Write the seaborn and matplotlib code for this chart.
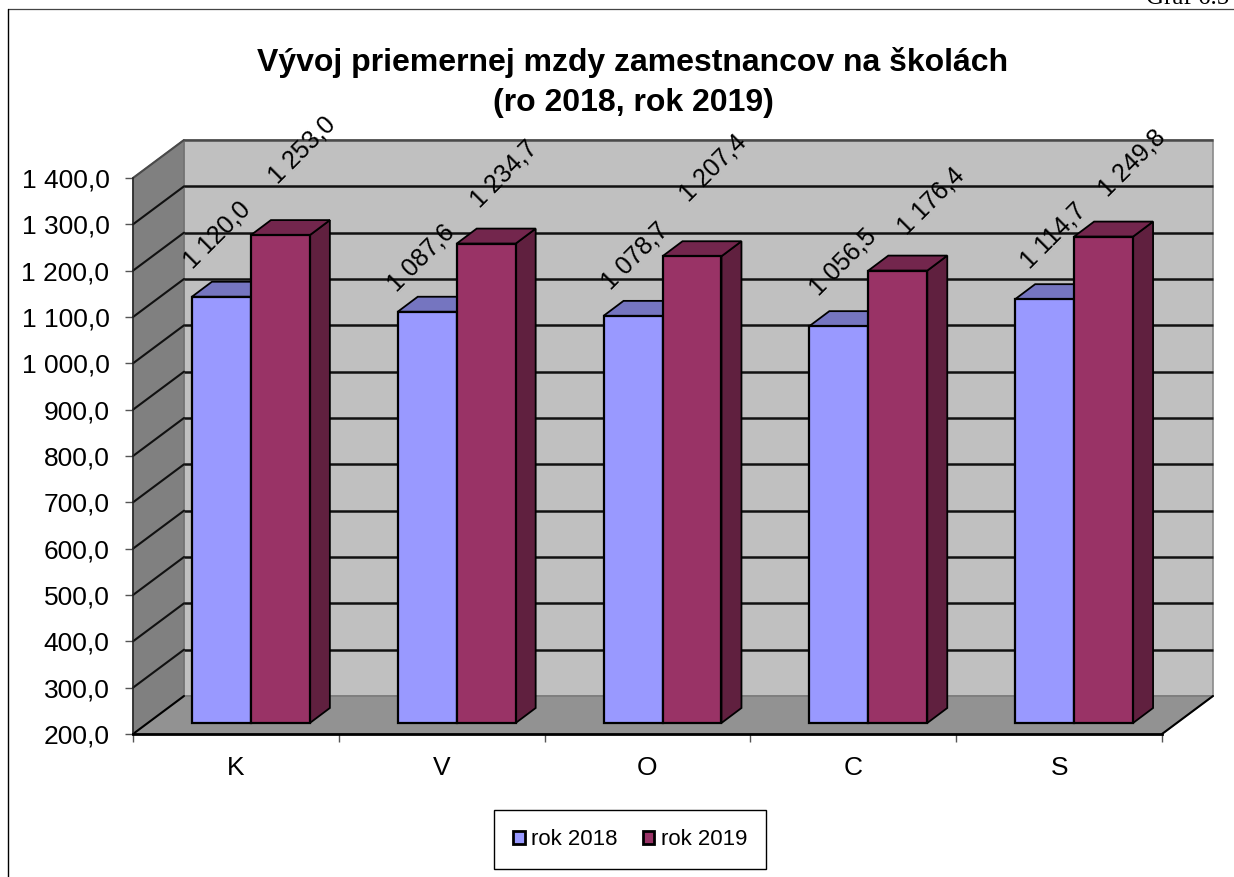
import matplotlib
matplotlib.use("Agg")
import matplotlib.pyplot as plt
from matplotlib.lines import Line2D
from matplotlib.patches import Polygon
from matplotlib.transforms import Affine2D, IdentityTransform
import pandas as pd
import seaborn as sns

# data
categories = ["K", "V", "O", "C", "S"]
rok_2018 = [1120.0, 1087.6, 1078.7, 1056.5, 1114.7]
rok_2019 = [1253.0, 1234.7, 1207.4, 1176.4, 1249.8]
series_names = ["rok 2018", "rok 2019"]
y_ticks = list(range(200, 1500, 100))

BLUE, BLUE_TOP, BLUE_SIDE = "#9999FF", "#7575C0", "#5A5A99"
RED, RED_TOP, RED_SIDE = "#993366", "#73264D", "#60203F"

W, H = 1234, 877


def fmt(v):
    s = f"{v:,.1f}"
    return s.replace(",", " ").replace(".", ",")


df = pd.DataFrame({
    "kat": categories * 2,
    "rok": [series_names[0]] * 5 + [series_names[1]] * 5,
    "mzda": rok_2018 + rok_2019,
})

sns.set_theme(style="white")
plt.rcParams["font.family"] = ["Liberation Sans", "DejaVu Sans"]

fig = plt.figure(figsize=(W / 100, H / 100), dpi=100, facecolor="white")
ax = fig.add_axes([133 / W, 1 - 734 / H, (1162 - 133) / W, (734 - 178) / H])
ax.patch.set_alpha(0)

sns.barplot(data=df, x="kat", y="mzda", hue="rok", order=categories,
            hue_order=series_names, palette=[BLUE, RED], width=0.573, gap=0,
            saturation=1, edgecolor="black", linewidth=1.6, ax=ax, zorder=5)
ax.set_xlim(-0.5, 4.5)
ax.set_ylim(200, 1400)
ax.set_xlabel("")
ax.set_ylabel("")


def back(dx=51, dy=38):
    return ax.transData + Affine2D().translate(dx, dy)


# walls and floor of the 3D box, from axis corners
ax.add_patch(Polygon([(-0.5, 200), (4.5, 200), (4.5, 1400), (-0.5, 1400)], closed=True,
                     facecolor="#C0C0C0", edgecolor="#8A8A8A", lw=1.2,
                     transform=back(), clip_on=False, zorder=0))
to_px = ax.transData.transform
bl, tl = to_px((-0.5, 200)), to_px((-0.5, 1400))
br = to_px((4.5, 200))
depth = (51, 38)
ax.add_patch(Polygon([bl, tl, tl + depth, bl + depth], closed=True, facecolor="#808080",
                     edgecolor="#707070", lw=1, transform=IdentityTransform(),
                     clip_on=False, zorder=0.5))
ax.add_patch(Polygon([bl, br, br + depth, bl + depth], closed=True, facecolor="#929292",
                     edgecolor="#777777", lw=1, transform=IdentityTransform(),
                     clip_on=False, zorder=0.5))

# gridlines on back wall + diagonals on the left wall
for v in y_ticks[1:]:
    col = "#4A4A4A" if v == 1400 else "#111111"
    ax.plot([-0.5, 4.5], [v, v], color=col, lw=1.8, transform=back(),
            clip_on=False, zorder=1, solid_capstyle="butt")
    p = to_px((-0.5, v))
    ax.add_line(Line2D([p[0], p[0] + 51], [p[1], p[1] + 38], color=col, lw=1.5,
                       transform=IdentityTransform(), clip_on=False, zorder=1))
for a in (bl, br):
    ax.add_line(Line2D([a[0], a[0] + 51], [a[1], a[1] + 38], color="black", lw=1.5,
                       transform=IdentityTransform(), clip_on=False, zorder=1.5))

# move bars into the box and add their top and side faces
bars = [b for c in ax.containers for b in c]
cols = [(BLUE_TOP, BLUE_SIDE)] * 5 + [(RED_TOP, RED_SIDE)] * 5
bar_dx, bar_dy = 15, 11
d = (20, 15)
for b, (c_top, c_side) in zip(bars, cols):
    b.set_transform(ax.transData + Affine2D().translate(bar_dx, bar_dy))
    b.set_clip_on(False)
    x0, x1 = b.get_x(), b.get_x() + b.get_width()
    y1 = b.get_height() + b.get_y()
    y0 = 200
    b.set_y(y0)
    b.set_height(y1 - y0)
    pa = to_px((x0, y1)) + (bar_dx, bar_dy)
    pb = to_px((x1, y1)) + (bar_dx, bar_dy)
    pc = to_px((x1, y0)) + (bar_dx, bar_dy)
    ax.add_patch(Polygon([pb, pc, pc + d, pb + d], closed=True, facecolor=c_side,
                         edgecolor="black", lw=1.3, transform=IdentityTransform(),
                         clip_on=False, zorder=3))
    ax.add_patch(Polygon([pa, pb, pb + d, pa + d], closed=True, facecolor=c_top,
                         edgecolor="black", lw=1.3, transform=IdentityTransform(),
                         clip_on=False, zorder=3))

# rotated value labels, nudged off the bars in pixels
label_dx = [-4, -6, 2, 4, 9, 22, 18, 21, 33, 29]
label_dy = [62, 54, 60, 64, 63, 85, 70, 88, 70, 74]
for b, v, dx, dy in zip(bars, rok_2018 + rok_2019, label_dx, label_dy):
    ax.annotate(fmt(v), (b.get_x() + b.get_width() / 2, v), xycoords="data",
                xytext=(bar_dx + dx, bar_dy + dy), textcoords="offset pixels",
                rotation=45, ha="center", va="center", fontsize=18,
                color="black", annotation_clip=False, zorder=6, rotation_mode="anchor")

# axes
for s in ("top", "right"):
    ax.spines[s].set_visible(False)
ax.spines["left"].set_linewidth(1.1)
ax.spines["left"].set_color("#222222")
ax.spines["bottom"].set_linewidth(2)
ax.spines["bottom"].set_color("black")
for s in ax.spines.values():
    s.set_zorder(2)

ax.set_yticks(y_ticks)
ax.set_yticklabels([fmt(v) for v in y_ticks], fontsize=19, color="black")
ax.set_xticks(range(5))
ax.set_xticklabels(categories, fontsize=19, color="black")
ax.set_xticks([i - 0.5 for i in range(6)], minor=True)
ax.tick_params(axis="y", left=True, length=6, width=1, color="#555555", pad=11)
ax.tick_params(axis="x", which="major", bottom=False, pad=10)
ax.tick_params(axis="x", which="minor", bottom=True, length=6, width=1, color="#555555")

# legend
leg = ax.legend(loc="center", bbox_to_anchor=(630 / W, 1 - 839.5 / H),
                bbox_transform=fig.transFigure, ncol=2, fontsize=16,
                frameon=True, fancybox=False, edgecolor="black", framealpha=1,
                handlelength=0.52, handleheight=0.52, handletextpad=0.28,
                columnspacing=1.15, borderpad=0.87, borderaxespad=0, labelcolor="black")
leg.get_frame().set_linewidth(1)
for h in leg.legend_handles:
    h.set_linewidth(2)
    h.set_edgecolor("black")

# title and page furniture
fig.text(633 / W, 1 - 62 / H, "Vývoj priemernej mzdy zamestnancov na školách",
         ha="center", va="center", fontsize=23, fontweight="bold", color="black")
fig.text(633 / W, 1 - 103 / H, "(ro 2018, rok 2019)",
         ha="center", va="center", fontsize=23, fontweight="bold", color="black")
fig.text(1 - 5 / W, 1 - 3.5 / H, "Graf 6.5", ha="right", va="baseline",
         fontsize=18, family="Liberation Serif", color="black")
fig.add_artist(Line2D([8 / W, 1], [1 - 9 / H, 1 - 9 / H], color="#444444", lw=0.9))
fig.add_artist(Line2D([8 / W, 8 / W], [1 - 9 / H, 0], color="black", lw=1))

fig.savefig("out.png", dpi=100)
